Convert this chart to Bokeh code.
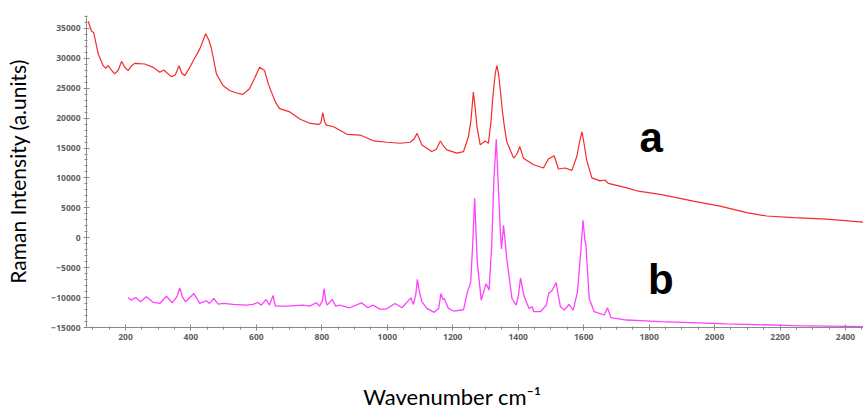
from bokeh.plotting import figure
from bokeh.models import Range1d, Label, FixedTicker
from bokeh.embed import file_html
from bokeh.resources import INLINE

# ---- data ----
red_x = [86, 96, 103, 117, 132, 140, 147, 155, 167, 178, 188, 198, 208, 218, 228, 259, 285, 305, 317,
         340, 352, 364, 372, 381, 395, 407, 427, 445, 455, 462, 478, 498, 518, 540, 559, 579, 595, 610,
         625, 636, 646, 660, 671, 702, 734, 765, 790, 797, 803, 809, 814, 836, 877, 917, 959, 999, 1040,
         1070, 1082, 1091, 1099, 1106, 1136, 1150, 1162, 1172, 1182, 1213, 1233, 1248, 1256, 1263, 1269,
         1274, 1284, 1299, 1309, 1317, 1323, 1330, 1335, 1340, 1345, 1352, 1358, 1365, 1386, 1396, 1405,
         1416, 1447, 1477, 1492, 1510, 1523, 1543, 1564, 1579, 1588, 1595, 1601, 1609, 1625, 1650, 1665,
         1675, 1691, 1732, 1767, 1834, 1935, 2017, 2098, 2159, 2241, 2342, 2455]
red_y = [36200, 34560, 34280, 30700, 28760, 28300, 28760, 28200, 27390, 28000, 29480, 28500, 27940, 28700,
         29150, 29040, 28480, 27660, 28050, 26940, 27200, 28760, 27500, 27110, 28300, 29590, 31530, 34110,
         33000, 31800, 27390, 25450, 24620, 24200, 23960, 24900, 26700, 28480, 27940, 25800, 24340, 22500,
         21590, 21030, 19820, 19110, 18940, 19200, 20930, 19300, 18830, 18550, 17290, 17170, 16180, 15960,
         15800, 15960, 16500, 17450, 16400, 15520, 14410, 14800, 16180, 15300, 14690, 14140, 14410, 16890,
         19800, 24340, 21500, 18550, 15520, 16180, 15800, 19500, 23800, 27500, 28760, 27400, 24900, 21030,
         18500, 16070, 13310, 14000, 15240, 13310, 12200, 11660, 13150, 13700, 11490, 11660, 11260, 13580,
         16200, 17720, 15800, 13030, 10000, 9500, 9650, 9100, 8890, 8350, 7780, 7240, 6130, 5300, 4200,
         3640, 3380, 3100, 2600]

mag_x = [208, 218, 231, 246, 264, 285, 305, 325, 343, 358, 366, 374, 384, 409, 427, 447, 457, 470, 483,
         500, 529, 569, 590, 605, 615, 630, 640, 651, 658, 691, 742, 763, 783, 793, 802, 807, 812, 816,
         832, 842, 854, 885, 921, 941, 956, 977, 997, 1024, 1045, 1072, 1080, 1087, 1092, 1098, 1106, 1121,
         1143, 1157, 1164, 1170, 1174, 1187, 1202, 1233, 1245, 1255, 1261, 1267, 1271, 1275, 1287, 1302,
         1311, 1319, 1326, 1333, 1339, 1345, 1349, 1355, 1360, 1365, 1381, 1394, 1401, 1407, 1417, 1433,
         1443, 1447, 1468, 1486, 1493, 1504, 1516, 1522, 1529, 1541, 1555, 1568, 1581, 1591, 1598, 1604,
         1607, 1617, 1632, 1663, 1673, 1683, 1732, 1775, 1834, 2038, 2241, 2455]
mag_y = [-9990, -10430, -9990, -10700, -9870, -10810, -10980, -9770, -10870, -9800, -8380, -9900, -10700,
         -9320, -10980, -10530, -10980, -10150, -11100, -10980, -11150, -11260, -11150, -10810, -11260,
         -10320, -11260, -9650, -11430, -11430, -11260, -11430, -10870, -11430, -10500, -8500, -10500,
         -11260, -10320, -11430, -11260, -11700, -10870, -11700, -11260, -11920, -11920, -10980, -11700,
         -10040, -11150, -9500, -6950, -9000, -10700, -11810, -12470, -11810, -9320, -10300, -10150, -11810,
         -12250, -12030, -9040, -7390, -1000, 6600, 1000, -4070, -10430, -7670, -8770, -1320, 10000, 16460,
         9000, 1500, -1870, 2100, -500, -3530, -10150, -11260, -9500, -6720, -9600, -11810, -11530, -12360,
         -12360, -11260, -9320, -8770, -7500, -9500, -11530, -12090, -11150, -12090, -9040, -2420, 2930,
         -500, -1320, -10150, -12360, -12910, -11700, -13350, -13750, -13850, -14010, -14400, -14670, -14840]

x_ticks = [200, 400, 600, 800, 1000, 1200, 1400, 1600, 1800, 2000, 2200, 2400]
y_ticks = [-15000, -10000, -5000, 0, 5000, 10000, 15000, 20000, 25000, 30000, 35000]
series_labels = ["a", "b"]
label_pos = [(1806, 16700), (1836, -7000)]

p = figure(width=863, height=412, output_backend="svg", toolbar_location=None,
           x_range=Range1d(81, 2455), y_range=Range1d(-15000, 37150),
           min_border_left=86, min_border_right=0, min_border_top=15, min_border_bottom=84)
p.outline_line_color = None
p.xgrid.visible = False
p.ygrid.visible = False
p.background_fill_color = "white"

p.line(red_x, red_y, line_color="#f52a2a", line_width=1.2)
p.line(mag_x, mag_y, line_color="#ff40ff", line_width=1.3)

for txt, (lx, ly) in zip(series_labels, label_pos):
    p.add_layout(Label(x=lx, y=ly, text=txt, text_align="center", text_baseline="alphabetic",
                       text_font="Liberation Sans", text_font_style="bold",
                       text_font_size="42px", text_color="black"))

axis_col = "#8a8a8a"
for ax in (p.xaxis[0], p.yaxis[0]):
    ax.axis_line_color = axis_col
    ax.major_tick_line_color = axis_col
    ax.minor_tick_line_color = axis_col
    ax.major_tick_in = 3
    ax.major_tick_out = 3
    ax.minor_tick_in = 1
    ax.minor_tick_out = 2
    ax.major_label_text_font = "Open Sans"
    ax.major_label_text_font_style = "bold"
    ax.major_label_text_font_size = "8.5px"
    ax.major_label_text_color = "#606060"
    ax.major_label_standoff = 3

p.xaxis.ticker = FixedTicker(ticks=x_ticks, minor_ticks=list(range(100, 2451, 50)))
p.yaxis.ticker = FixedTicker(ticks=y_ticks, minor_ticks=list(range(-15000, 37001, 1000)))

p.yaxis.axis_label = "Raman Intensity (a.units)"
p.yaxis.axis_label_text_font = "Lato"
p.yaxis.axis_label_text_font_style = "normal"
p.yaxis.axis_label_text_font_size = "21px"
p.yaxis.axis_label_text_color = "black"
p.yaxis.axis_label_standoff = 18

# trailing no-break spaces shift the centred title left, as in the reference
p.xaxis.axis_label = "Wavenumber cm\u207b\u00b9" + "\u00a0" * 8
p.xaxis.axis_label_text_font = "Lato"
p.xaxis.axis_label_text_font_style = "normal"
p.xaxis.axis_label_text_font_size = "22px"
p.xaxis.axis_label_text_color = "black"
p.xaxis.axis_label_standoff = 40

open("out.html", "w").write(file_html(p, INLINE))
